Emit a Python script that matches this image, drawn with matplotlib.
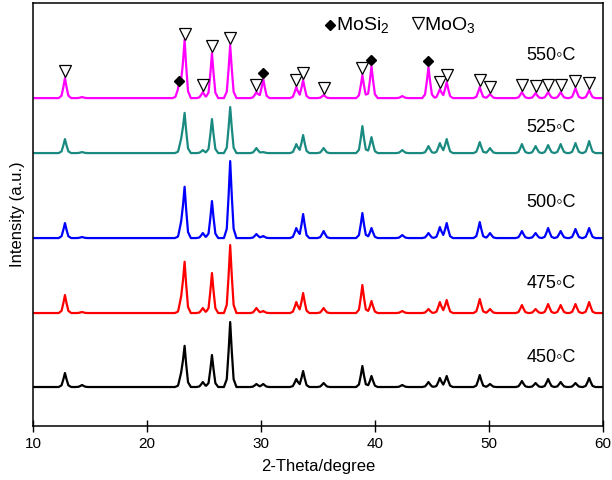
import numpy as np
import matplotlib
matplotlib.use("Agg")
from matplotlib import pyplot as plt

plt.rcParams['font.family'] = ['Liberation Sans', 'DejaVu Sans']
plt.rcParams['mathtext.fontset'] = 'custom'
plt.rcParams['mathtext.rm'] = 'Liberation Sans'
plt.rcParams['mathtext.it'] = 'Liberation Sans'

# temperatures, colours and baseline offsets (intensity units, arbitrary)
temps = ['450', '475', '500', '525', '550']
colors = ['#000000', '#ff0000', '#0000ff', '#1a8a80', '#ff00ff']
offsets = [39, 113, 188, 273, 328]

# peak positions (2-theta) shared by all patterns
pos = [12.8, 14.3, 22.8, 23.0, 23.3, 24.9, 25.7, 27.3, 29.6, 30.2, 33.1, 33.7,
       35.5, 38.9, 39.7, 42.4, 44.7, 45.7, 46.3, 49.2, 50.1, 52.9, 54.1, 55.2,
       56.3, 57.6, 58.8]

# peak heights
h450 = [14, 2, 0, 10, 40, 5, 32, 65, 3, 3, 8, 16, 4, 21, 11, 2, 5, 9, 11, 12, 3,
        6, 4, 8, 5, 4, 9]
h475 = [18, 1, 0, 11, 50, 5, 40, 68, 5, 2, 11, 20, 5, 28, 12, 2, 4, 11, 13, 14, 4,
        8, 4, 9, 8, 9, 11]
h500 = [15, 1, 0, 11, 50, 5, 37, 77, 4, 2, 10, 24, 7, 25, 10, 3, 5, 11, 15, 16, 5,
        7, 5, 10, 7, 9, 10]
h525 = [14, 1, 0, 10, 39, 3, 34, 46, 5, 1, 9, 18, 5, 27, 16, 3, 7, 10, 14, 11, 5,
        9, 7, 8, 9, 10, 12]
h550 = [20, 1, 11, 8, 57, 6, 45, 53, 6, 19, 11, 18, 3, 23, 32, 2, 31, 9, 16, 11, 4,
        6, 5, 6, 6, 10, 8]
heights = [h450, h475, h500, h525, h550]

# phase markers on the 550 pattern
moo3_pos = [12.8, 23.3, 24.9, 25.7, 27.3, 29.6, 33.1, 33.7, 35.5, 38.9, 45.7, 46.3,
            49.2, 50.1, 52.9, 54.1, 55.2, 56.3, 57.6, 58.8]
mosi2_pos = [22.8, 30.2, 39.7, 44.7]

# peak shape template (offsets in degrees, relative height)
shape_dx = np.array([-0.55, -0.3, -0.14, 0.0, 0.14, 0.3, 0.55])
shape_y = np.array([0.0, 0.12, 0.55, 1.0, 0.55, 0.12, 0.0])


def pattern(hts, base):
    xs = [10.0, 60.0]
    for p in pos:
        xs += list(p + shape_dx)
    xs = np.unique(np.array(xs))
    ys = np.full(xs.shape, float(base))
    for p, h in zip(pos, hts):
        if h:
            ys += np.interp(xs, p + shape_dx, h * shape_y, left=0, right=0)
    return xs, ys


fig = plt.figure(figsize=(6.12, 4.8), dpi=100)
ax = fig.add_axes([0.054, 0.1125, 0.931, 0.881])

for t, c, off, hts in zip(temps, colors, offsets, heights):
    x, y = pattern(hts, off)
    ax.plot(x, y, color=c, lw=1.6)

# markers on the top pattern
for p in moo3_pos:
    top = offsets[4] + h550[pos.index(p)]
    ax.plot(p, top + 7, marker='v', ms=8, mfc='white', mec='black', mew=0.9,
            ls='none')
for p in mosi2_pos:
    top = offsets[4] + h550[pos.index(p)]
    ax.plot(p, top + 6, marker='D', ms=5, color='black', ls='none')

# temperature labels
label_y = [69, 143, 224, 299, 371]
for t, ly in zip(temps, label_y):
    ax.text(53.3, ly, t + '\u25e6C', fontsize=13, va='center', ha='left',
            family=['Liberation Sans', 'DejaVu Sans'])

# legend of phases
ax.plot(36.1, 401, marker='D', ms=5, color='black', ls='none')
ax.text(36.6, 401, 'MoSi$_2$', fontsize=14, va='center', ha='left')
ax.plot(43.8, 403, marker='v', ms=9, mfc='white', mec='black', mew=0.9, ls='none')
ax.text(44.3, 401, 'MoO$_3$', fontsize=14, va='center', ha='left')

ax.set_xlim(10, 60)
ax.set_ylim(0, 423)
ax.set_xticks([10, 20, 30, 40, 50, 60])
ax.set_yticks([])
ax.tick_params(axis='x', direction='inout', length=8, width=1, labelsize=11,
               top=False, pad=4)
for s in ax.spines.values():
    s.set_linewidth(1.1)
ax.set_xlabel('2-Theta/degree', fontsize=12, labelpad=6)
ax.set_ylabel('Intensity (a.u.)', fontsize=12, labelpad=6)

fig.savefig('out.png', dpi=100)
